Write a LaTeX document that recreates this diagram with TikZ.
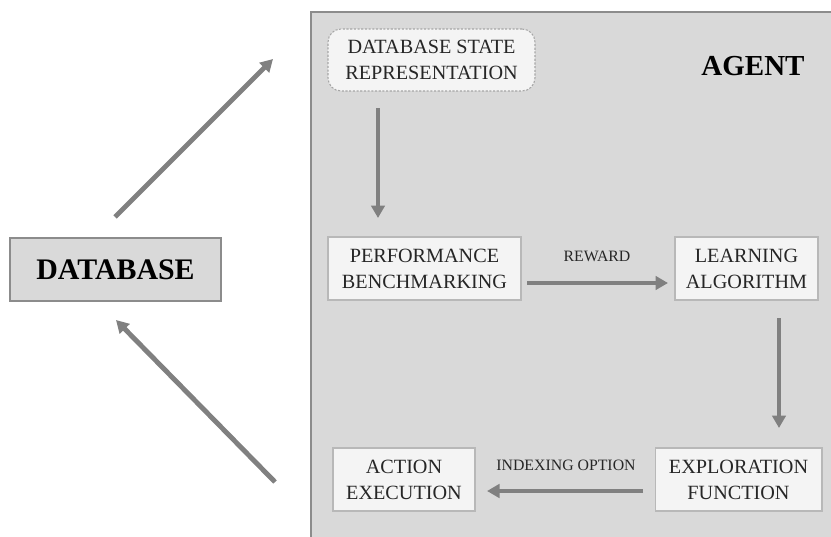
\documentclass[tikz,border=0pt]{standalone}
\usepackage{fontspec}
\setmainfont{Liberation Serif}
\usetikzlibrary{arrows.meta}

\definecolor{agentgray}{HTML}{D9D9D9}
\definecolor{boxfill}{HTML}{F4F4F4}
\definecolor{arrowgray}{HTML}{808080}

\tikzset{
  block/.style={draw=black!28,fill=boxfill,line width=0.6pt,inner sep=0pt,
    align=center,font=\fontsize{11.5}{14.8}\selectfont,text=black!85},
  flow/.style={draw=arrowgray,line width=2.8pt,
    -{Triangle[length=0.25cm,width=0.27cm]}},
  flowlabel/.style={font=\fontsize{9}{11}\selectfont,text=black!85}
}

\begin{document}
\begin{tikzpicture}[x=0.02cm,y=-0.02cm]
  \useasboundingbox (0,0) rectangle (831,537);
  % agent area
  \fill[agentgray] (311,12) rectangle (831,537);
  \draw[black!45,line width=0.7pt] (311,537) -- (311,12) -- (831,12);
  \node (agent) at (753,66) {\fontsize{16.5}{18}\selectfont\bfseries AGENT};

  % database
  \node[draw=black!45,fill=agentgray,line width=0.7pt,minimum width=4.22cm,
    minimum height=1.26cm] (db) at (115.5,269.5)
    {\fontsize{17}{19}\selectfont\bfseries DATABASE};

  % agent components
  \node[block,draw=black!35,dash pattern=on 1.2pt off 0.9pt,rounded corners=0.26cm,
    minimum width=4.14cm,minimum height=1.24cm] (dsr) at (431.5,60)
    {DATABASE STATE\\REPRESENTATION};
  \node[block,minimum width=3.86cm,minimum height=1.26cm] (perf) at (424.5,268.5)
    {PERFORMANCE\\BENCHMARKING};
  \node[block,minimum width=2.86cm,minimum height=1.26cm] (learn) at (746.5,268.5)
    {LEARNING\\ALGORITHM};
  \node[block,minimum width=3.34cm,minimum height=1.26cm] (expl) at (738.5,479.5)
    {EXPLORATION\\FUNCTION};
  \node[block,minimum width=2.84cm,minimum height=1.26cm] (act) at (404,479.5)
    {ACTION\\EXECUTION};

  % arrow ends
  \coordinate (dsrout) at (378,108);
  \coordinate (perfin) at (378,218);
  \coordinate (perfout) at (527,283);
  \coordinate (learnin) at (668,283);
  \coordinate (learnout) at (779,318);
  \coordinate (explin) at (779,428);
  \coordinate (explout) at (643,491);
  \coordinate (actin) at (487,491);
  \coordinate (dbout) at (115,217);
  \coordinate (stateto) at (273,59);
  \coordinate (actout) at (275,482);
  \coordinate (dbin) at (116,320);

  \draw[flow] (dsrout) -- (perfin);
  \draw[flow] (perfout) -- (learnin);
  \draw[flow] (learnout) -- (explin);
  \draw[flow] (explout) -- (actin);
  \draw[flow] (dbout) -- (stateto);
  \draw[flow] (actout) -- (dbin);

  \node[flowlabel] (reward) at (597,256) {REWARD};
  \node[flowlabel] (option) at (566,465) {INDEXING OPTION};
\end{tikzpicture}
\end{document}
